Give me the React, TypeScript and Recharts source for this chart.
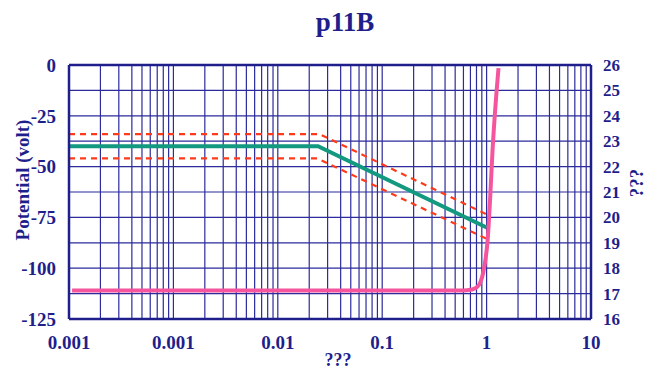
import { LineChart, Line, XAxis, YAxis, ReferenceLine } from "recharts";

const xTicks = [0.0001, 0.001, 0.01, 0.1, 1, 10];
const xTickLabels = ["0.001", "0.001", "0.01", "0.1", "1", "10"];
const leftTicks = [0, -25, -50, -75, -100, -125];
const rightTicks = [16, 17, 18, 19, 20, 21, 22, 23, 24, 25, 26];

const greenX = [0.0001, 0.0243, 1];
const greenY = [-40, -40, -80];
const upperX = [0.0001, 0.025, 1];
const upperY = [-34, -34, -73.5];
const lowerX = [0.0001, 0.024, 1];
const lowerY = [-46, -46, -85.5];
const pinkX = [0.000107, 0.3, 0.6, 0.72, 0.8, 0.87, 0.93, 0.98, 1.02, 1.08, 1.14, 1.3];
const pinkY = [-111, -111, -111, -110.5, -109.5, -107, -102, -95, -87, -66, -42, -1.5];

// right axis range, used only so the axis has its own scale
const rightSpan = [{ x: 0.0001, r: 16 }, { x: 10, r: 26 }];

const zip = (xs: number[], ys: number[]) => xs.map((x, i) => ({ x, y: ys[i] }));

const decades = [0.0001, 0.001, 0.01, 0.1, 1];
const vGrid: number[] = [];
decades.forEach((d) => {
  for (let m = 2; m <= 9; m++) vGrid.push(d * m);
});
vGrid.push(0.001, 0.01, 0.1, 1);
const hGrid = [-12.5, -25, -37.5, -50, -62.5, -75, -87.5, -100, -112.5];

const navy = "#1f1f8c";
const font = "'Liberation Serif', serif";

export default function App() {
  const tickStyle = { fill: navy, fontFamily: font, fontWeight: 700, fontSize: 19 };
  return (
    <div style={{ position: "relative", width: 655, height: 370 }}>
      <style>{`body{margin:0}`}</style>
      <LineChart
        width={655}
        height={370}
        margin={{ top: 65, right: 0, left: 0, bottom: 0 }}
      >
        <XAxis
          dataKey="x"
          type="number"
          scale="log"
          domain={[0.0001, 10]}
          allowDataOverflow
          ticks={xTicks}
          tickFormatter={(v: number) => xTickLabels[xTicks.indexOf(v)] ?? ""}
          tickLine={false}
          tick={tickStyle}
          tickMargin={11}
          height={51}
          axisLine={{ stroke: navy, strokeWidth: 2.5 }}
        />
        <YAxis
          yAxisId="left"
          dataKey="y"
          domain={[-125, 0]}
          allowDataOverflow
          ticks={leftTicks}
          tickLine={false}
          tick={tickStyle}
          tickMargin={7}
          width={69}
          axisLine={{ stroke: navy, strokeWidth: 2.5 }}
        />
        <YAxis
          yAxisId="right"
          orientation="right"
          dataKey="r"
          domain={[16, 26]}
          allowDataOverflow
          ticks={rightTicks}
          tickLine={false}
          tick={{ ...tickStyle, fontSize: 17 }}
          tickMargin={6}
          width={64}
          axisLine={{ stroke: navy, strokeWidth: 2.5 }}
        />
        {vGrid.map((v) => (
          <ReferenceLine key={"v" + v} x={v} yAxisId="left" stroke="#2b2b9c" strokeWidth={1.2} ifOverflow="hidden" />
        ))}
        {hGrid.map((v) => (
          <ReferenceLine key={"h" + v} y={v} yAxisId="left" stroke="#2b2b9c" strokeWidth={1.2} />
        ))}
        <ReferenceLine y={0} yAxisId="left" stroke={navy} strokeWidth={2.5} />
        <Line
          yAxisId="right"
          data={rightSpan}
          dataKey="r"
          stroke="none"
          strokeWidth={0}
          dot={false}
          isAnimationActive={false}
        />
        <Line
          yAxisId="left"
          data={zip(upperX, upperY)}
          dataKey="y"
          stroke="#ff3a1a"
          strokeWidth={2.2}
          strokeDasharray="6 5"
          dot={false}
          isAnimationActive={false}
        />
        <Line
          yAxisId="left"
          data={zip(lowerX, lowerY)}
          dataKey="y"
          stroke="#ff3a1a"
          strokeWidth={2.2}
          strokeDasharray="6 5"
          dot={false}
          isAnimationActive={false}
        />
        <Line
          yAxisId="left"
          data={zip(greenX, greenY)}
          dataKey="y"
          stroke="#12997f"
          strokeWidth={4}
          dot={false}
          isAnimationActive={false}
        />
        <Line
          yAxisId="left"
          type="monotone"
          data={zip(pinkX, pinkY)}
          dataKey="y"
          stroke="#f5559d"
          strokeWidth={4}
          dot={false}
          isAnimationActive={false}
        />
      </LineChart>
      <svg
        width={655}
        height={370}
        style={{ position: "absolute", left: 0, top: 0, pointerEvents: "none" }}
      >
        <text x={345} y={31} textAnchor="middle" fill={navy} fontFamily={font} fontWeight={700} fontSize={27}>
          p11B
        </text>
        <text
          transform="translate(29,180) rotate(-90)"
          textAnchor="middle"
          fill={navy}
          fontFamily={font}
          fontWeight={700}
          fontSize={19}
        >
          Potential (volt)
        </text>
        <text
          transform="translate(643,183) rotate(-90)"
          textAnchor="middle"
          fill={navy}
          fontFamily={font}
          fontWeight={700}
          fontSize={19}
        >
          ???
        </text>
        <text x={338} y={366} textAnchor="middle" fill={navy} fontFamily={font} fontWeight={700} fontSize={18}>
          ???
        </text>
      </svg>
    </div>
  );
}
